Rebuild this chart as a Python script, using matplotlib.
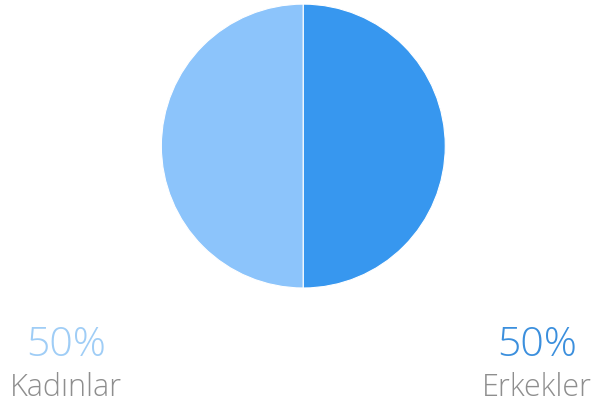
import matplotlib.pyplot as plt

# Cinsiyet dağılımı
labels = ['Kadınlar', 'Erkekler']
sizes = [50, 50]
colors = ['#8cc4fb', '#3797ef']
pct_colors = ['#9fcdf6', '#3b8fdd']

fig = plt.figure(figsize=(5.93, 4.12), dpi=100)
ax = fig.add_axes([0.272, 0.301, 0.479, 0.689])
ax.pie(sizes, colors=colors, startangle=90, counterclock=True,
       wedgeprops=dict(edgecolor='white', linewidth=0.8))
ax.set_xlim(-1.0, 1.0)
ax.set_ylim(-1.0, 1.0)
ax.set_aspect('equal')

# Etiketler: sol tarafta kadınlar, sağda erkekler
xpos = [66 / 593, 537 / 593]
for lab, val, c, x in zip(labels, sizes, pct_colors, xpos):
    fig.text(x, 1 - 346 / 412, f'{val:.0f}%', color=c, fontsize=29.5,
             family='Open Sans', weight='light', ha='center', va='center')
    fig.text(x, 1 - 388 / 412, lab, color='#8e8e8e', fontsize=22,
             family='Open Sans', weight='light', ha='center', va='center')

fig.savefig('out.png', dpi=100, facecolor='white')
